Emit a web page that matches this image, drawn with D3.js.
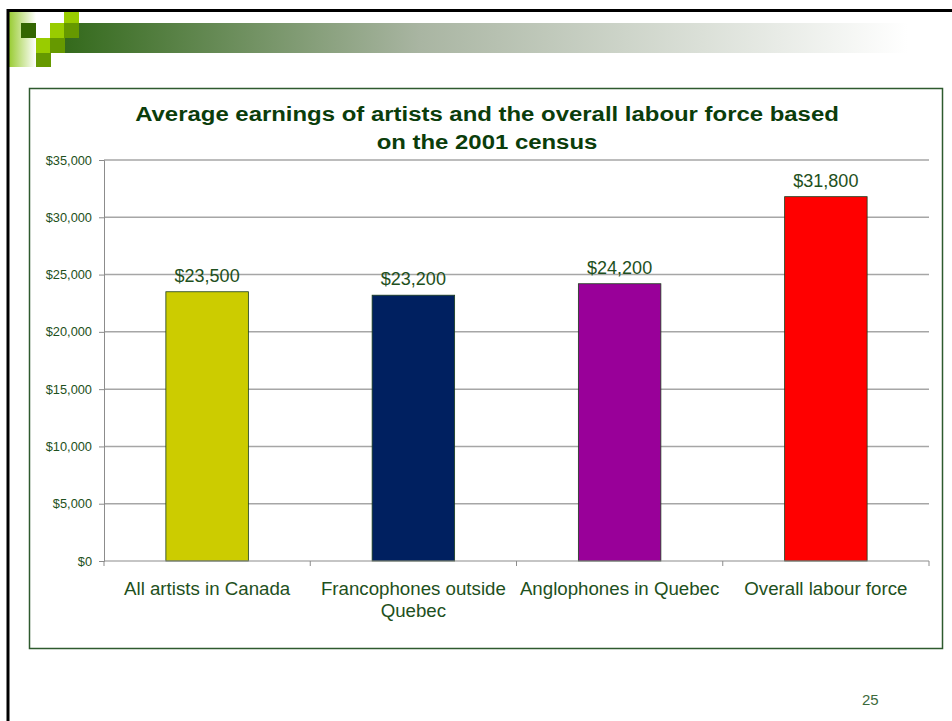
<!DOCTYPE html>
<html>
<head>
<meta charset="utf-8">
<script src="https://cdn.jsdelivr.net/npm/d3@7/dist/d3.min.js"></script>
<style>
  body { margin: 0; background: #fff; }
  svg { display: block; font-family: "Liberation Sans", Arial, sans-serif; }
</style>
</head>
<body>
<script>
// chart data
const categories = ["All artists in Canada", "Francophones outside Quebec", "Anglophones in Quebec", "Overall labour force"];
const earnings = [23500, 23200, 24200, 31800];
const barColors = ["#cccc00", "#002060", "#990099", "#ff0000"];
const yTicks = [0, 5000, 10000, 15000, 20000, 25000, 30000, 35000];
const titleLines = ["Average earnings of artists and the overall labour force based", "on the 2001 census"];
const pageNumber = "25";

const width = 952, height = 721;
const svg = d3.select("body").append("svg")
  .attr("width", width)
  .attr("height", height);

// slide decoration
const defs = svg.append("defs");
const band = defs.append("linearGradient").attr("id", "band");
band.append("stop").attr("offset", "0%").attr("stop-color", "#346a1c");
band.append("stop").attr("offset", "40%").attr("stop-color", "#a9b5a2");
band.append("stop").attr("offset", "95%").attr("stop-color", "#ffffff");
const fade = defs.append("linearGradient").attr("id", "fade");
fade.append("stop").attr("offset", "0%").attr("stop-color", "#99cc33");
fade.append("stop").attr("offset", "100%").attr("stop-color", "#ffffff");

svg.append("rect").attr("x", 9).attr("y", 12).attr("width", 27).attr("height", 55).attr("fill", "url(#fade)");
svg.append("rect").attr("x", 65).attr("y", 23).attr("width", 887).attr("height", 30).attr("fill", "url(#band)");

const squares = [
  [64, 12, "#99cc00"], [21, 23, "#336600"], [50, 23, "#99cc00"], [64, 23, "#669900"],
  [36, 38, "#99cc00"], [50, 38, "#669900"], [36, 53, "#669900"]
];
svg.selectAll("rect.sq").data(squares).join("rect")
  .attr("class", "sq")
  .attr("x", d => d[0]).attr("y", d => d[1])
  .attr("width", 15).attr("height", d => d[1] === 53 ? 14 : (d[1] === 12 ? 11 : 15))
  .attr("fill", d => d[2]);

// slide frame
svg.append("line").attr("x1", 7).attr("x2", width).attr("y1", 10.5).attr("y2", 10.5)
  .attr("stroke", "#000").attr("stroke-width", 3);
svg.append("line").attr("x1", 8).attr("x2", 8).attr("y1", 9).attr("y2", height)
  .attr("stroke", "#000").attr("stroke-width", 3);

// chart box
svg.append("rect").attr("x", 29.5).attr("y", 88.5).attr("width", 913).attr("height", 560)
  .attr("fill", "#fff").attr("stroke", "#2e5a2e").attr("stroke-width", 1.5);

// title (the original is a little wider than Arial, so stretch it)
svg.append("g").selectAll("text").data(titleLines).join("text")
  .attr("transform", (d, i) => `translate(487,${i ? 149 : 121}) scale(1.14,1)`)
  .attr("text-anchor", "middle")
  .attr("font-size", 21).attr("font-weight", "bold").attr("fill", "#0b3d0b")
  .text(d => d);

const margin = { left: 104, right: 929, top: 160, bottom: 561 };
const x = d3.scaleBand().domain(categories).range([margin.left, margin.right])
  .paddingInner(0.6).paddingOuter(0.3);
const y = d3.scaleLinear().domain([0, 35000]).range([margin.bottom, margin.top]);

// gridlines
svg.append("g").selectAll("line").data(yTicks.slice(1)).join("line")
  .attr("x1", margin.left).attr("x2", margin.right)
  .attr("y1", d => y(d)).attr("y2", d => y(d))
  .attr("stroke", "#a6a6a6").attr("stroke-width", 1.5);

// y axis
const yAxis = svg.append("g")
  .attr("transform", `translate(${margin.left},0)`)
  .call(d3.axisLeft(y).tickValues(yTicks).tickSize(5).tickPadding(7)
    .tickFormat(d => "$" + d3.format(",")(d)));
yAxis.select(".domain").attr("stroke", "#8c8c8c");
yAxis.selectAll(".tick line").attr("stroke", "#8c8c8c");
yAxis.selectAll("text").attr("font-size", 12.8).attr("fill", "#1e5020")
  .attr("font-family", "Liberation Sans, Arial, sans-serif");

// bars
svg.append("g").selectAll("rect").data(categories).join("rect")
  .attr("x", d => x(d))
  .attr("y", (d, i) => y(earnings[i]))
  .attr("width", x.bandwidth())
  .attr("height", (d, i) => y(0) - y(earnings[i]))
  .attr("fill", (d, i) => barColors[i])
  .attr("stroke", "#1b3d1b").attr("stroke-width", 0.8);

// x axis line and category ticks
const step = x.step();
const bounds = d3.range(categories.length + 1).map(i => margin.left + i * step);
svg.append("line").attr("x1", margin.left).attr("x2", margin.right)
  .attr("y1", y(0)).attr("y2", y(0)).attr("stroke", "#8c8c8c").attr("stroke-width", 1.2);
svg.append("g").selectAll("line").data(bounds).join("line")
  .attr("x1", d => d).attr("x2", d => d)
  .attr("y1", y(0)).attr("y2", y(0) + 5)
  .attr("stroke", "#8c8c8c");

// value labels
svg.append("g").selectAll("text").data(categories).join("text")
  .attr("x", d => x(d) + x.bandwidth() / 2)
  .attr("y", (d, i) => y(earnings[i]) - 10)
  .attr("text-anchor", "middle")
  .attr("font-size", 18).attr("fill", "#1e5020")
  .text((d, i) => "$" + d3.format(",")(earnings[i]));

// category labels
const wrapLabel = { "Francophones outside Quebec": ["Francophones outside", "Quebec"] };
svg.append("g").selectAll("text").data(categories).join("text")
  .attr("x", d => x(d) + x.bandwidth() / 2)
  .attr("y", 595)
  .attr("text-anchor", "middle")
  .attr("font-size", 18.7).attr("fill", "#1e5020")
  .each(function (d) {
    const lines = wrapLabel[d] || [d];
    d3.select(this).selectAll("tspan").data(lines).join("tspan")
      .attr("x", x(d) + x.bandwidth() / 2)
      .attr("dy", (l, i) => i ? 22 : 0)
      .text(l => l);
  });

// page number
svg.append("text").attr("x", 862).attr("y", 705)
  .attr("font-size", 15).attr("fill", "#3c6a3c").text(pageNumber);
</script>
</body>
</html>
